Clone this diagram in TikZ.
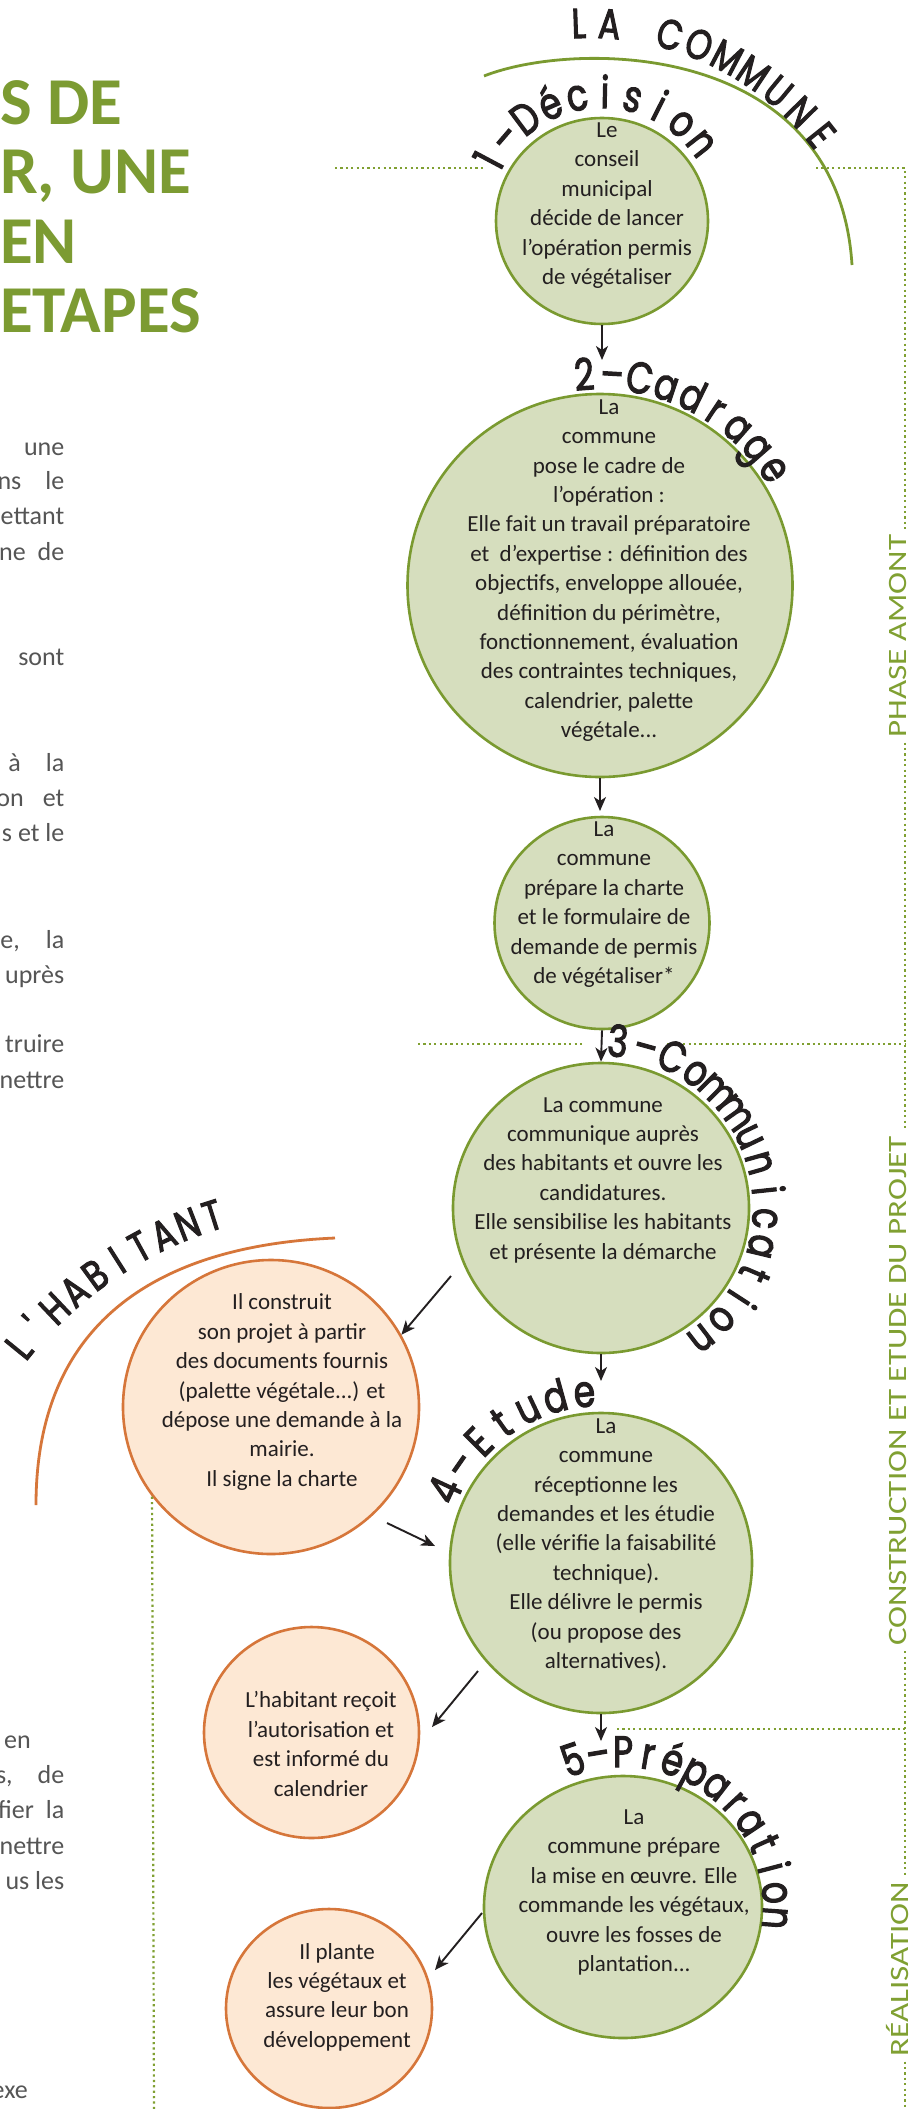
\documentclass[tikz,border=0pt]{standalone}
\usepackage{fontspec}
\setmainfont{Carlito}
\newfontfamily\handfont{Poppins}[FakeBold=2.5, FakeStretch=0.78]
\newfontfamily\vfont{Carlito}[FakeStretch=1.25]
\usetikzlibrary{calc,arrows.meta,shapes.geometric}

\definecolor{gstroke}{RGB}{122,154,48}
\definecolor{gfill}{RGB}{214,222,190}
\definecolor{ostroke}{RGB}{214,118,58}
\definecolor{ofill}{RGB}{253,232,212}
\definecolor{gdot}{RGB}{128,160,50}
\definecolor{titlegreen}{RGB}{124,155,50}
\definecolor{inkc}{RGB}{35,31,32}
\definecolor{paragray}{RGB}{85,85,85}

\newcommand\handlc{\handfont\fontsize{44}{44}\selectfont}
\newcommand\handuc{\handfont\fontsize{42}{42}\selectfont}

\tikzset{
  gcirc/.style={ellipse, draw=gstroke, fill=gfill, line width=2.6pt, inner sep=0pt},
  ocirc/.style={ellipse, draw=ostroke, fill=ofill, line width=2.6pt, inner sep=0pt},
  ctext/.style={align=center, text=inkc, font=\fontsize{23}{29.4}\selectfont, inner sep=0pt},
  arr/.style={-{Stealth[length=14pt,width=12pt,inset=4pt]}, line width=1.9pt, draw=inkc},
  dotline/.style={draw=gdot, line width=2.2pt, dash pattern=on 2.2pt off 3.2pt},
  hand/.style={text=inkc, anchor=base, inner sep=0pt},
  vlab/.style={font=\vfont\fontsize{26.5}{26.5}\selectfont, text=gdot, rotate=90, inner sep=0pt},
  para/.style={font=\fontsize{26}{26}\selectfont, text=paragray, anchor=base east, inner sep=0pt},
  titl/.style={font=\bfseries\fontsize{67}{67}\selectfont, text=titlegreen, anchor=base west, inner sep=0pt},
  garc/.style={draw=gstroke, line width=2.8pt},
  oarc/.style={draw=ostroke, line width=2.8pt},
}

\newlength\hwid
% #1 style, #2 name prefix, #3 centre, #4 radius, #5 start angle, #6 end angle, #7 font, #8 letters
\newcommand\warclabel[8]{%
  \gdef\sumw{0}\gdef\nch{1}%
  \foreach \ch [count=\i] in {#8}{%
    \settowidth\hwid{#7\ch}%
    \pgfmathsetmacro\tmpw{\sumw+\hwid}%
    \xdef\sumw{\tmpw}\xdef\nch{\i}%
  }%
  \pgfmathsetmacro\gapw{((#5)-(#6))*pi/180*(#4)-\sumw}%
  \pgfmathsetmacro\gapa{\gapw/(\nch-1)/(#4)*180/pi}%
  \xdef\curang{#5}%
  \foreach \ch [count=\i] in {#8}{%
    \settowidth\hwid{#7\ch}%
    \pgfmathsetmacro\wa{\hwid/(#4)*180/pi}%
    \pgfmathsetmacro\labang{\curang-\wa/2}%
    \node[#1, font={#7}, rotate=\labang-90] (#2\i) at ($(#3)+(\labang:#4)$) {\ch};
    \pgfmathsetmacro\nx{\curang-\wa-\gapa}%
    \xdef\curang{\nx}%
  }}

\begin{document}
\begin{tikzpicture}[x=1pt,y=1pt]
\fill[white] (0,0) rectangle (918,-2109);
\useasboundingbox (0,0) rectangle (918,-2109);

% ---- title (cropped) ----
\node[titl] (h1) at (0,-124) {S DE};
\node[titl] (h2) at (0,-193) {R, UNE};
\node[titl] (h3) at (0,-263) {EN};
\node[titl] (h4) at (0,-332) {ETAPES};

% ---- cropped paragraph text ----
\node[para] (p1) at (64.5,-455) {une};
\node[para] (p2) at (64.5,-489) {ns\hspace{24pt}le};
\node[para] (p3) at (64.5,-524) {ettant};
\node[para] (p4) at (64.5,-560) {ne\hspace{12pt}de};
\node[para] (p5) at (64.5,-665) {sont};
\node[para] (p6) at (64.5,-771) {à\hspace{25pt}la};
\node[para] (p7) at (64.5,-806) {on\hspace{19pt}et};
\node[para] (p8) at (64.5,-841) {s et le};
\node[para] (p9) at (64.5,-948) {e,\hspace{26pt}la};
\node[para] (p10) at (64.5,-983) {uprès};
\node[para] (p11) at (64.5,-1052) {truire};
\node[para] (p12) at (64.5,-1088) {nettre};
\node[para] (p13) at (31,-1748) {en};
\node[para] (p14) at (64.5,-1783) {s,\hspace{25pt}de};
\node[para] (p15) at (64.5,-1818) {fier\hspace{12pt}la};
\node[para] (p16) at (64.5,-1854) {nettre};
\node[para] (p17) at (64.5,-1889) {us les};
\node[para] (p18) at (28,-2098) {exe};

% ---- big arcs ----
\draw[garc] (484,-76) .. controls (575,-40) and (838,-40) .. (852,-265);
\draw[oarc] (335,-1238) .. controls (220,-1243) and (36,-1280) .. (36,-1505);

% ---- dotted guide lines ----
\coordinate (d1a) at (335,-168);
\coordinate (d1b) at (484,-168);
\coordinate (d1c) at (816,-168);
\coordinate (vtop) at (905,-168);
\coordinate (vbot) at (905,-2109);
\coordinate (d2a) at (418,-1044);
\coordinate (d2b) at (583,-1044);
\coordinate (d2c) at (667,-1044);
\coordinate (d2d) at (905,-1044);
\coordinate (d3a) at (617,-1729);
\coordinate (d3b) at (905,-1729);
\coordinate (lvb) at (154,-2109);

\node[vlab] (pa) at (898,-636) {PHASE AMONT};
\node[vlab] (ce) at (898,-1391) {CONSTRUCTION ET ETUDE DU PROJET};
\node[vlab] (re) at (898,-1969) {RÉALISATION};

\draw[dotline] (d1a) -- (d1b);
\draw[dotline] (d1c) -- (vtop) -- ($(vtop |- pa.east)+(0,5)$);
\draw[dotline] ($(vtop |- pa.west)+(0,-5)$) -- ($(vtop |- ce.east)+(0,5)$);
\draw[dotline] ($(vtop |- ce.west)+(0,-5)$) -- ($(vtop |- re.east)+(0,5)$);
\draw[dotline] ($(vtop |- re.west)+(0,-5)$) -- (vbot);
\draw[dotline] (d2a) -- (d2b);
\draw[dotline] (d2c) -- (d2d);
\draw[dotline] (d3a) -- (d3b);

% ---- commune circles ----
\node[gcirc, minimum width=212pt, minimum height=206pt] (c1) at (602,-221) {};
\node[gcirc, minimum width=385pt, minimum height=383pt] (c2) at (600,-585.5) {};
\node[gcirc, minimum width=215pt, minimum height=212pt] (c3) at (602,-923) {};
\node[gcirc, minimum width=296pt, minimum height=290pt] (c4) at (601,-1208) {};
\node[gcirc, minimum width=302pt, minimum height=300pt] (c5) at (601,-1563) {};
\node[gcirc, minimum width=278pt, minimum height=262pt] (c6) at (623,-1907) {};

% ---- habitant circles ----
\node[ocirc, minimum width=296pt, minimum height=294pt] (cA) at (271,-1407) {};
\node[ocirc, minimum width=215pt, minimum height=211pt] (cB) at (311.5,-1732.5) {};
\node[ocirc, minimum width=206pt, minimum height=199pt] (cC) at (329,-2008.5) {};

\draw[dotline] (cA.217) -- (lvb);

% ---- circle texts ----
\node[ctext] (t1) at (607,-205.5) {Le\\conseil\\municipal\\décide de lancer\\l’opération permis\\de végétaliser};
\node[ctext] (t2) at (609,-570.5) {La\\commune\\pose le cadre de\\l’opération :\\Elle fait un travail préparatoire\\et\ \ d’expertise : définition des\\objectifs, enveloppe allouée,\\définition du périmètre,\\fonctionnement, évaluation\\des contraintes techniques,\\calendrier, palette\\végétale...};
\node[ctext] (t3) at (604,-904.5) {La\\commune\\prépare la charte\\et le formulaire de\\demande de permis\\de végétaliser*};
\node[ctext] (t4) at (603,-1180) {La commune\\communique auprès\\des habitants et ouvre les\\candidatures.\\Elle sensibilise les habitants\\et présente la démarche};
\node[ctext] (t5) at (606,-1545) {La\\commune\\réceptionne les\\demandes et les étudie\\(elle vérifie la faisabilité\\technique).\\Elle délivre le permis\\(ou propose des\\alternatives).};
\node[ctext] (t6) at (634,-1892.5) {La\\commune prépare\\la mise en œuvre. Elle\\commande les végétaux,\\ouvre les fosses de\\plantation...};
\node[ctext] (tA) at (282,-1392) {Il construit\\son projet à partir\\des documents fournis\\(palette végétale...) et\\dépose une demande à la\\mairie.\\Il signe la charte};
\node[ctext] (tB) at (321,-1744) {L’habitant reçoit\\l’autorisation et\\est informé du\\calendrier};
\node[ctext] (tC) at (337,-1997) {Il plante\\les végétaux et\\assure leur bon\\développement};

% ---- arrows ----
\coordinate (a12) at (602,-360);
\coordinate (a23) at (600,-811);
\coordinate (a45) at (601,-1381);
\coordinate (a56) at (601,-1741);
\coordinate (s4A) at (451,-1276);
\coordinate (sA5) at (387,-1523);
\coordinate (eA5) at (435,-1546);
\coordinate (s5B) at (478,-1671);
\coordinate (e5B) at (432,-1727);
\coordinate (s6C) at (482,-1913);
\coordinate (e6C) at (435,-1970);
\draw[arr] (c1.south) -- (a12);
\draw[arr] (c2.south) -- (a23);
\draw[arr] (c3.south) -- (c4.north);
\draw[arr] (c4.south) -- (a45);
\draw[arr] (c5.south) -- (a56);
\draw[arr] (s4A) -- (cA.29);
\draw[arr] (sA5) -- (eA5);
\draw[arr] (s5B) -- (e5B);
\draw[arr] (s6C) -- (e6C);

% ---- hand-written curved labels ----
\coordinate (lcc) at (588.6,-320.9);
\coordinate (lhc) at (336,-1605);
\warclabel{hand}{lc}{lcc}{283}{91.9}{38.6}{\handuc}{L,A,~,C,O,M,M,U,N,E}
\warclabel{hand}{ld}{c1}{113}{152}{38}{\handlc}{1,–,D,é,c,i,s,i,o,n}
\warclabel{hand}{lk}{c2}{196}{94.3}{33.7}{\handlc}{2,–,C,a,d,r,a,g,e}
\warclabel{hand}{lm}{c4}{152}{84.2}{-52.5}{\handlc}{3,–,C,o,m,m,u,n,i,c,a,t,i,o,n}
\warclabel{hand}{le}{c5}{157}{155}{95.6}{\handlc}{4,–,E,t,u,d,e}
\warclabel{hand}{lp}{c6}{140}{108.8}{-4.1}{\handlc}{5,–,P,r,é,p,a,r,a,t,i,o,n}
\warclabel{hand}{lh}{lhc}{394}{140.9}{107.6}{\handuc}{L,',H,A,B,I,T,A,N,T}
\end{tikzpicture}
\end{document}
